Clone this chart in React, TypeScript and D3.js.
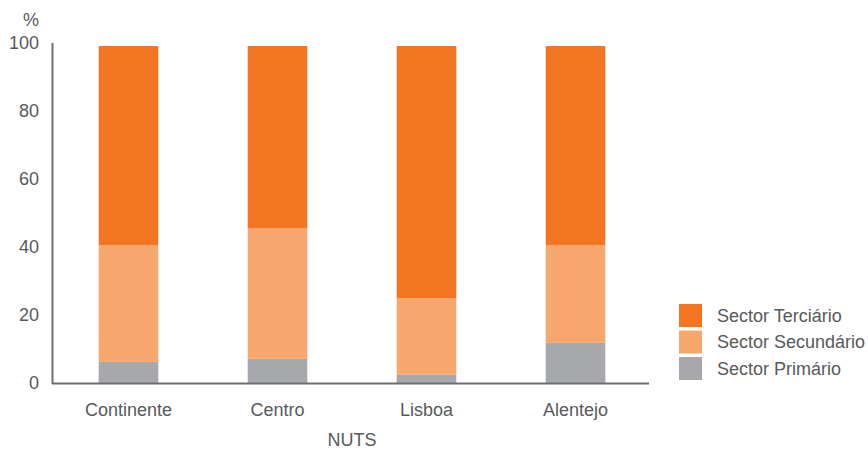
import * as d3 from "d3";

const categories = ["Continente", "Centro", "Lisboa", "Alentejo"];
const seriesNames = ["Sector Primário", "Sector Secundário", "Sector Terciário"];
const primario = [6.2, 7.1, 2.4, 11.8];
const secundario = [34.4, 38.5, 22.6, 28.8];
const terciario = [58.5, 53.5, 74.1, 58.5];
const yTicks = [0, 20, 40, 60, 80, 100];
const colors = ["#a7a8ab", "#f7a76e", "#f47521"];

const textColor = "#58595b";
const axisColor = "#6d6e71";
const font = "'Liberation Sans', Arial, sans-serif";
const fs = 18;

const App = () => {
  const width = 868;
  const height = 450;

  const rows = categories.map((c, i) => ({
    category: c,
    p: primario[i],
    s: secundario[i],
    t: terciario[i]
  }));

  const x = d3.scaleBand()
    .domain(categories)
    .range([54, 650])
    .paddingInner(0.6)
    .paddingOuter(0.3);

  const y = d3.scaleLinear().domain([0, 100]).range([383, 43]);

  const stacked = d3.stack<any>().keys(["p", "s", "t"])(rows);

  // legend order: top is tertiary
  const legend = [2, 1, 0];

  return (
    <svg
      width={width}
      height={height}
      style={{ position: "absolute", left: 0, top: 0, background: "#fff" }}
      fontFamily={font}
    >
      {stacked.map((layer, li) => (
        <g key={li} fill={colors[li]}>
          {layer.map((d, i) => (
            <rect
              key={i}
              x={x(categories[i])}
              width={x.bandwidth()}
              y={y(d[1])}
              height={y(d[0]) - y(d[1])}
            />
          ))}
        </g>
      ))}

      {/* axes */}
      <line x1={52.5} x2={52.5} y1={43} y2={384} stroke={axisColor} strokeWidth={2} />
      <line x1={52} x2={649} y1={383.5} y2={383.5} stroke={axisColor} strokeWidth={2} />

      {yTicks.map((t) => (
        <text
          key={t}
          x={39}
          y={y(t)}
          dy="0.35em"
          textAnchor="end"
          fontSize={fs}
          fill={textColor}
        >
          {t}
        </text>
      ))}
      <text x={39} y={26} textAnchor="end" fontSize={fs} fill={textColor}>%</text>

      {categories.map((c) => (
        <text
          key={c}
          x={(x(c) ?? 0) + x.bandwidth() / 2}
          y={416}
          textAnchor="middle"
          fontSize={fs}
          fill={textColor}
        >
          {c}
        </text>
      ))}
      <text x={352} y={446} textAnchor="middle" fontSize={fs} fill={textColor}>NUTS</text>

      {legend.map((si, k) => (
        <g key={si} transform={`translate(679,${304 + k * 26.5})`}>
          <rect width={23} height={23} fill={colors[si]} />
          <text x={38} y={11.5} dy="0.35em" fontSize={fs} fill={textColor}>
            {seriesNames[si]}
          </text>
        </g>
      ))}
    </svg>
  );
};

export default App;
